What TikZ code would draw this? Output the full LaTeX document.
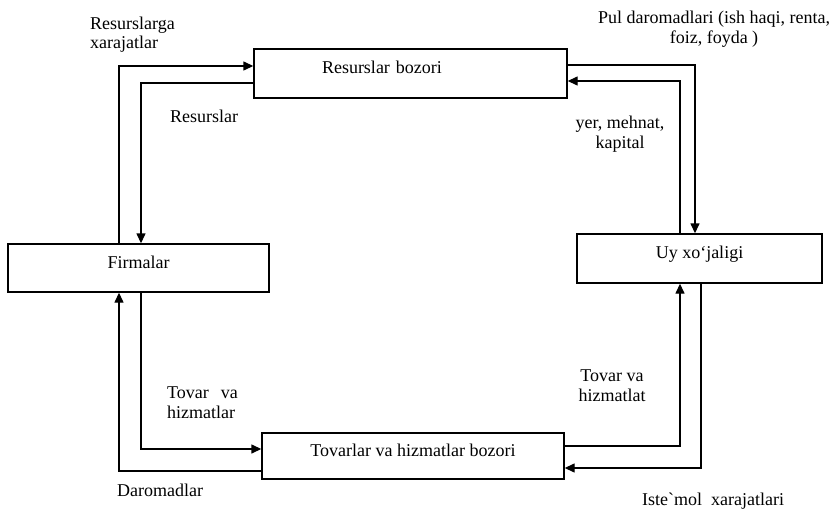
\documentclass[tikz,border=0pt]{standalone}
\usepackage{fontspec}
\setmainfont{Liberation Serif}
\usetikzlibrary{arrows.meta}
\begin{document}
\begin{tikzpicture}[x=1pt,y=-1pt,
  font=\fontsize{18}{20}\selectfont,
  box/.style={draw,line width=1.4pt,rectangle,inner sep=0pt,
              text height=6pt,text depth=6pt},
  flow/.style={line width=1.4pt,-{Triangle[length=10pt,width=9pt]}},
  lbl/.style={inner sep=0pt}]
\useasboundingbox (0,0) rectangle (831,511);

% markets and sectors
\node[box,minimum width=313pt,minimum height=49pt,
      text width=177pt,align=left,inner xsep=68pt] (rb) at (410.5,73.5) {Resurslar bozori};
\node[box,minimum width=261pt,minimum height=48pt] (fi) at (138.5,268) {Firmalar};
\node[box,minimum width=245pt,minimum height=49pt] (uy) at (699.5,258.5) {Uy xo‘jaligi};
\node[box,minimum width=302pt,minimum height=46pt] (tv) at (413,456) {Tovarlar va hizmatlar bozori};

% bends of the flows
\coordinate (c1) at (119,66);
\coordinate (c2) at (141,83);
\coordinate (c3) at (695,65);
\coordinate (c4) at (680,81);
\coordinate (c5) at (141,449);
\coordinate (c6) at (119,471);
\coordinate (c7) at (680,446);
\coordinate (c8) at (701,468);

% flows
\draw[flow] (fi.north -| c1) |- (rb.west |- c1);
\draw[flow] (rb.west |- c2) -| (fi.north -| c2);
\draw[flow] (rb.east |- c3) -| (uy.north -| c3);
\draw[flow] (uy.north -| c4) |- (rb.east |- c4);
\draw[flow] (fi.south -| c5) |- (tv.west |- c5);
\draw[flow] (tv.west |- c6) -| (fi.south -| c6);
\draw[flow] (tv.east |- c7) -| (uy.south -| c7);
\draw[flow] (uy.south -| c8) |- (tv.east |- c8);

% flow labels (base anchor of a two-line label sits on its last line)
\node[lbl,anchor=base west,align=left] (l1) at (90,49) {Resurslarga\\xarajatlar};
\node[lbl,anchor=base west] (l2) at (170,122) {Resurslar};
\node[lbl,anchor=base,align=center] (l3) at (714,44) {Pul daromadlari (ish haqi, renta,\\foiz, foyda )};
\node[lbl,anchor=base,align=center] (l4) at (620,148) {yer, mehnat,\\kapital};
\node[lbl,anchor=base west,align=left] (l5) at (167,418) {Tovar\hspace{12pt}va\\hizmatlar};
\node[lbl,anchor=base west] (l6) at (117,496) {Daromadlar};
\node[lbl,anchor=base,align=center] (l7) at (612,401) {Tovar va\\hizmatlat};
\node[lbl,anchor=base west] (l8) at (642,505) {Iste\textasciigrave mol\hspace{9pt}xarajatlari};
\end{tikzpicture}
\end{document}
